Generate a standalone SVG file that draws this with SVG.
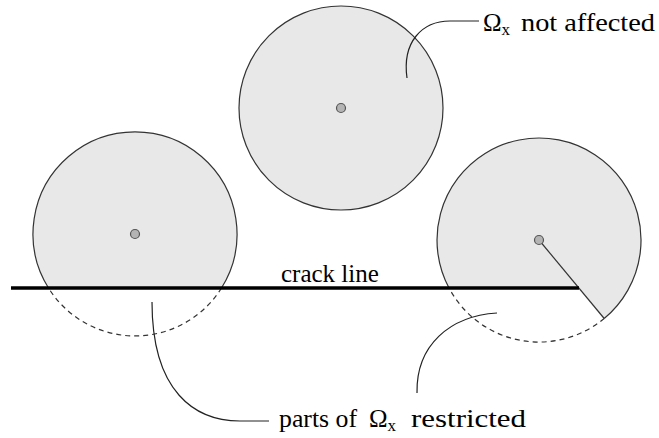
<svg xmlns="http://www.w3.org/2000/svg" width="659" height="438" viewBox="0 0 659 438">
  <style>
    .disk { fill: #e8e8e8; stroke: none; }
    .rim { fill: none; stroke: #333; stroke-width: 1.2; }
    .dash { fill: none; stroke: #333; stroke-width: 1.2; stroke-dasharray: 5 4; }
    .dot { fill: #b4b4b4; stroke: #555; stroke-width: 1.2; }
    .lead { fill: none; stroke: #222; stroke-width: 1.2; }
    .lbl { font-family: 'Liberation Serif', 'Times New Roman', serif; font-size: 25px; fill: #000; }
    .sub { font-size: 17px; }
  </style>
  <rect width="659" height="438" fill="#fff"/>

  <g id="circle-top">
    <circle cx="341" cy="108" r="102" class="disk"/>
    <circle cx="341" cy="108" r="102" class="rim"/>
    <circle cx="341" cy="108" r="4.5" class="dot"/>
  </g>

  <g id="circle-left">
    <path d="M 48.5 288 A 102 102 0 1 1 221.5 288 Z" class="disk"/>
    <path d="M 48.5 288 A 102 102 0 1 1 221.5 288" class="rim"/>
    <path d="M 221.5 288 A 102 102 0 0 1 48.5 288" class="dash"/>
    <circle cx="135" cy="234" r="4.5" class="dot"/>
  </g>

  <g id="circle-right">
    <path d="M 449 288 A 102 102 0 1 1 604.2 318.5 L 578.8 288 Z" class="disk"/>
    <path d="M 449 288 A 102 102 0 1 1 604.2 318.5" class="rim"/>
    <path d="M 604.2 318.5 A 102 102 0 0 1 449 288" class="dash"/>
    <line x1="539" y1="240" x2="604.2" y2="318.5" class="rim"/>
    <circle cx="539" cy="240" r="4.5" class="dot"/>
  </g>

  <g id="crack-line">
    <line x1="11" y1="288" x2="579" y2="288" stroke="#000" stroke-width="3.5"/>
    <text x="281" y="282" class="lbl">crack line</text>
  </g>

  <g id="connectors">
    <path d="M 407 78 C 402 42, 422 21, 450 21 L 479 21" class="lead"/>
    <path d="M 152 302 C 152 392, 195 421, 240 421 L 269 421" class="lead"/>
    <path d="M 497 313 C 450 316, 416 345, 417 393" class="lead"/>
  </g>

  <g id="label-not-affected">
    <text x="483" y="31" class="lbl">Ω<tspan class="sub" dy="4">x</tspan><tspan dy="-4" x="521" textLength="134" lengthAdjust="spacingAndGlyphs">not affected</tspan></text>
  </g>

  <g id="label-restricted">
    <text x="279" y="427" class="lbl"><tspan textLength="78" lengthAdjust="spacingAndGlyphs">parts of</tspan><tspan x="369">Ω</tspan><tspan class="sub" dy="4">x</tspan><tspan dy="-4" x="411" textLength="115" lengthAdjust="spacingAndGlyphs">restricted</tspan></text>
  </g>
</svg>
